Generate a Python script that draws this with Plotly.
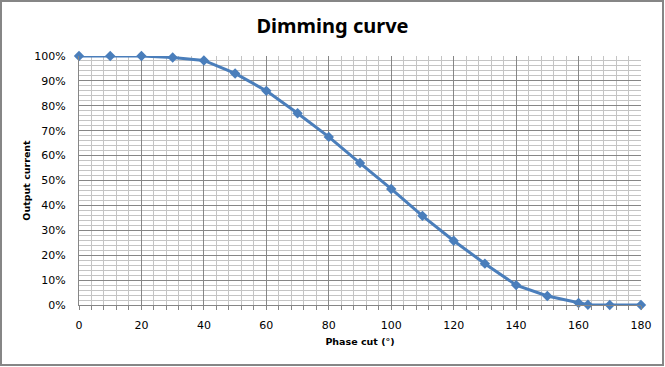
import plotly.graph_objects as go

phase_cut = [0, 10, 20, 30, 40, 50, 60, 70, 80, 90, 100, 110, 120, 130, 140, 150, 160, 163, 170, 180]
output_current = [1.0, 1.0, 1.0, 0.994, 0.982, 0.93, 0.86, 0.77, 0.675, 0.57, 0.466, 0.358, 0.258, 0.166, 0.08, 0.036, 0.008, 0.001, 0.0, 0.0]

W, H = 665, 367
L, R, T, B = 79, 24, 56, 62
pw, ph = W - L - R, H - T - B

fig = go.Figure()
fig.add_trace(go.Scatter(
    x=phase_cut, y=output_current, mode="lines+markers",
    line=dict(color="#4A7EBB", width=3),
    marker=dict(symbol="diamond", size=8, color="#4A7EBB"),
    showlegend=False, cliponaxis=False,
))

fig.update_layout(
    width=W, height=H,
    margin=dict(l=L, r=R, t=T, b=B),
    paper_bgcolor="white", plot_bgcolor="white",
    title=dict(text="<b>Dimming curve</b>", x=0.5, xanchor="center", y=1 - 26 / H, yanchor="middle",
               font=dict(family="Noto Sans", size=20, color="black")),
    font=dict(family="DejaVu Sans", size=11, color="black"),
    xaxis=dict(
        range=[0, 180], dtick=20, tick0=0,
        showgrid=True, gridcolor="#868686", gridwidth=1,
        minor=dict(dtick=4, tick0=0, showgrid=True, gridcolor="#C4C4C4", gridwidth=1,
                   ticks="outside", ticklen=4, tickcolor="#868686"),
        ticks="outside", ticklen=4, tickcolor="#868686",
        ticklabelstandoff=6,
        showline=True, linecolor="#868686", linewidth=1,
        zeroline=False,
        title=dict(text="<b>Phase cut (°)</b>", font=dict(family="DejaVu Sans", size=9.5), standoff=7),
        tickfont=dict(size=11),
    ),
    yaxis=dict(
        range=[0, 1], dtick=0.1, tick0=0, tickformat=".0%",
        showgrid=True, gridcolor="#868686", gridwidth=1,
        minor=dict(dtick=0.02, tick0=0, showgrid=True, gridcolor="#C4C4C4", gridwidth=1),
        ticks="", ticklabelstandoff=10,
        showline=True, linecolor="#868686", linewidth=1,
        zeroline=False,
        title=dict(text="<b>Output current</b>", font=dict(family="DejaVu Sans", size=9.5), standoff=2),
        tickfont=dict(size=11),
    ),
)

# outer chart border
fig.add_shape(type="rect", xref="paper", yref="paper",
              x0=(1 - L) / pw, x1=(W - 2 - L) / pw,
              y0=-(B - 2) / ph, y1=1 + (T - 1) / ph,
              line=dict(color="#868686", width=2), fillcolor="rgba(0,0,0,0)", layer="above")

fig.write_html("out.html", config={"displayModeBar": False},
               post_script="document.body.style.margin='0';document.body.style.padding='0';document.body.style.overflow='hidden';")
